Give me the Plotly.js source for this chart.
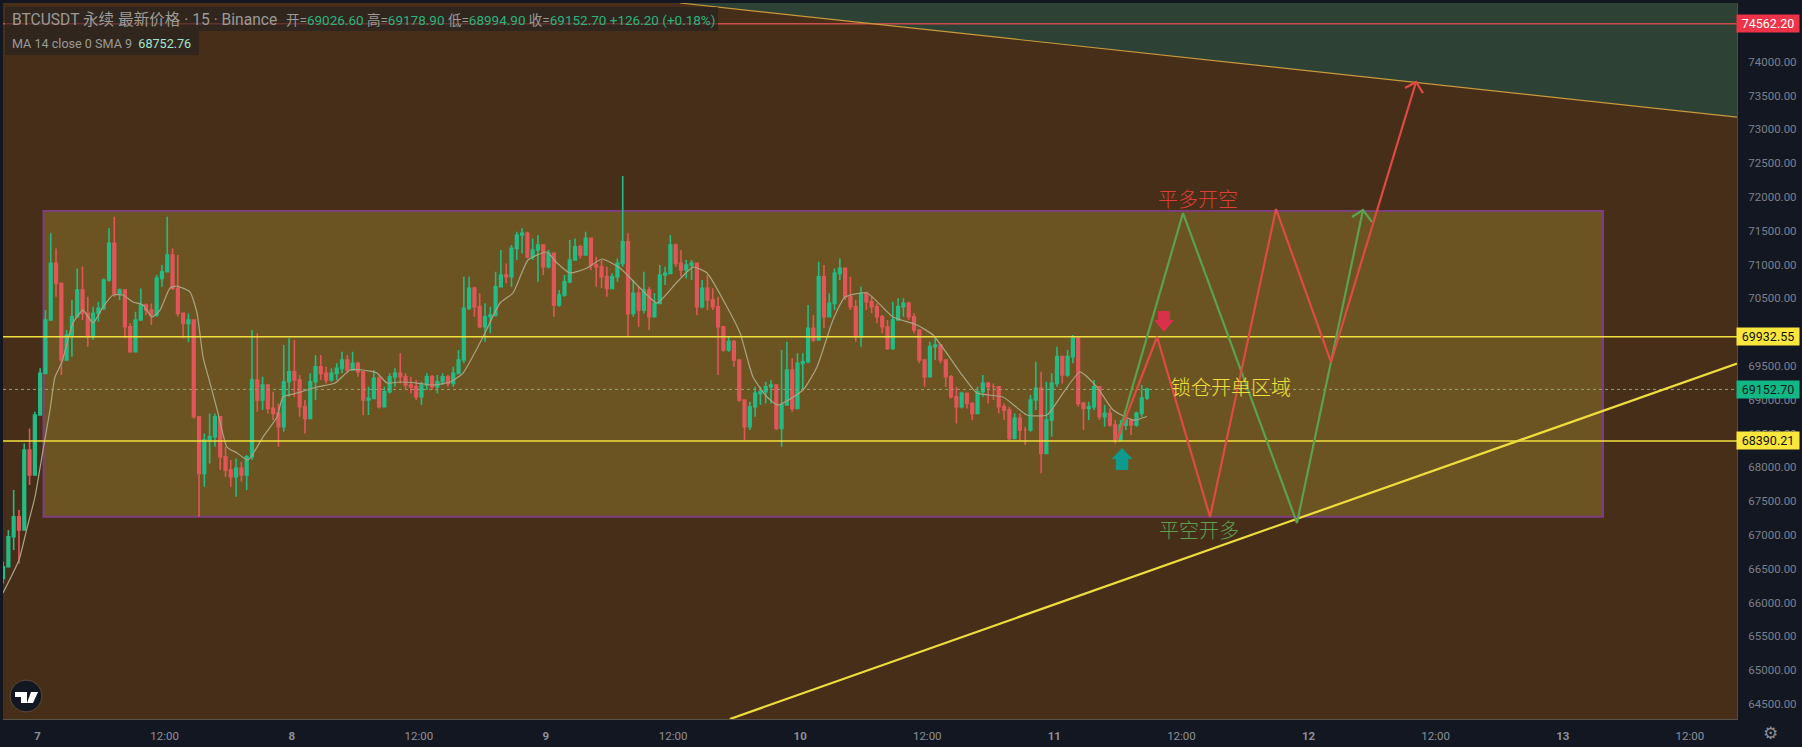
<!DOCTYPE html>
<html><head><meta charset="utf-8">
<script src="https://cdn.plot.ly/plotly-3.0.1.min.js"></script>
<style>html,body{margin:0;padding:0;background:#131722;overflow:hidden}#c{width:1802px;height:747px}</style>
</head><body><div id="c"></div>
<script>
const firstHour=-3.25, stepHours=0.5, firstOpen=66357;
const closes=[66530,66974,67270,67072,68256,67886,68774,69390,
70179,71017,70721,69587,69957,70228,70623,70277,69932,70277,70351,70771,71313,70573,70623,70080,69710,70179,70401,70327,70253,70795,70894,71140,70647,70277,70130,70179,68749,67911,68404,68453,68749,68157,67960,67861,67984,67886,68157,69291,68995,69217,68872,68798,68601,69267,69415,69291,68897,68724,69267,69489,69390,69291,69390,69464,69587,69439,69538,69415,68995,69020,69316,68897,69119,69341,69390,69341,69217,69193,69045,69217,69341,69193,69267,69341,69242,
69390,69587,70352,70648,70376,70080,70228,70253,70672,70845,70820,71239,71437,71461,71116,71215,71289,70968,71165,70401,70549,70746,71067,71264,71141,71387,70993,70968,70820,70648,70820,71017,71338,70278,70574,70327,70623,70228,70426,70845,70870,71289,71017,70919,70993,71017,70376,70648,70475,70376,70080,69735,69859,69587,68996,68601,68897,69094,69119,69193,69218,68577,68922,69440,68872,69538,69563,70056,69883,70820,70228,70426,70870,70943,70524,70376,69933,70574,70450,70376,70228,70080,69760,70179,
70376,70426,70228,70031,69587,69341,69785,69809,69587,69341,69045,68897,69094,68946,68798,69119,69242,69193,69193,68897,68848,68428,68724,68552,68552,68996,69168,68207,68700,69242,69637,69365,69637,69908,68946,68872,68897,69193,68749,68798,68626,68404,68626,68700,68626,68798,69026,69152.7];
const highs=[66604,67072,67664,67368,68354,68576,68823,69464,
70327,71461,71239,70697,70031,70475,70943,70968,70524,70376,70450,70795,71535,71707,70647,70573,70130,70302,70647,70425,70425,70845,70992,71707,71239,71140,70253,70277,70056,68749,68502,68798,68798,68724,68305,68108,68132,68083,68182,70031,69982,69341,69217,69119,68946,69809,69908,69883,69365,68995,69390,69661,69661,69489,69464,69538,69710,69661,69710,69562,69415,69193,69439,69365,69193,69390,69464,69686,69390,69341,69291,69267,69390,69365,69365,69390,69365,
69489,69735,70820,70820,70672,70574,70426,70376,70894,71215,71017,71289,71486,71535,71486,71387,71437,71215,71215,70919,70623,70845,71363,71387,71289,71486,71387,71116,71067,70968,70870,71091,72309,71461,70771,70672,70894,70672,70574,70993,70968,71437,71313,71215,71067,71067,70968,70771,70845,70648,70524,70080,69933,69883,69538,68996,68971,69193,69193,69267,69292,69144,69735,69859,69612,69686,69686,70401,70253,71042,70993,70574,70943,71091,70943,70820,70475,70672,70598,70524,70426,70253,70179,70450,
70500,70500,70450,70278,70031,69587,69858,69908,69809,69538,69365,69193,69119,69094,68946,69193,69365,69267,69242,69143,68946,68897,68798,68798,68601,69070,69563,69415,69267,69390,69785,69637,69735,69957,69883,68971,68971,69291,69143,68922,68872,68700,68700,68773,68724,68823,69218,69178.9];
const lows=[66283,66678,66776,66579,67072,67738,68034,69119,
69587,70179,70524,69365,69587,69636,70253,70179,69784,69883,70154,70327,70746,70524,70475,69908,69695,69784,70228,70253,70105,70228,70672,70894,70623,70228,69908,69858,68724,67270,67713,68058,68305,67960,67861,67713,67565,67787,67664,68108,68823,68847,68798,68700,68305,68527,69045,69045,68749,68502,68995,68995,69291,69242,69267,69291,69390,69390,69439,69341,68773,68773,69143,68872,68897,69094,69193,69242,69143,69094,68995,68921,69143,69143,69094,69217,69193,
69193,69390,69538,70327,70228,70056,69859,69982,70228,70672,70722,70672,71067,71165,71091,71067,70746,70845,70943,70228,70376,70524,70722,71091,71091,71141,70919,70672,70648,70524,70648,70746,70968,69933,70228,70080,70278,70031,70228,70426,70697,70870,70968,70820,70795,70771,70253,70352,70327,70327,69365,69711,69711,69489,68971,68404,68552,68749,68922,68946,68946,68552,68305,68996,68823,69119,69144,69538,69859,70007,70056,70228,70327,70771,70475,70327,69859,69785,70327,70278,70130,69982,69735,69735,
70228,70228,70179,69982,69538,69193,69341,69587,69538,69193,69020,68650,68872,68872,68700,68798,69045,68946,68996,68798,68700,68404,68502,68404,68330,68527,68848,67911,68256,68453,69193,69242,69341,69538,68897,68552,68700,68848,68700,68601,68601,68355,68379,68552,68478,68601,68749,68994.9];

const maHours=[-3.26,-1.75,-0.99,-0.24,0.52,1.18,1.65,2.31,3.35,4.30,5.24,6.18,7.13,8.07,9.02,9.96,10.81,11.57,12.51,13.17,14.40,15.06,15.63,16.29,17.04,17.89,18.84,19.87,21.29,22.61,23.18,24.50,26.39,28.09,29.50,30.73,32.05,33.0,34.22,35.83,37.34,38.95,40.17,42.06,43.67,44.89,46.31,48.10,49.05,50.27,51.88,53.29,54.99,56.88,58.49,60.38,61.89,63.21,65.10,66.33,67.55,68.88,69.91,72.27,73.59,75.10,76.24,78.31,80.77,83.03,84.55,87.09,88.70,91.15,93.42,95.30,96.82,98.43,100.03,101.55,103.43,104.75];
const maValues=[66141,66629,67102,67561,68256,68848,69336,69558,70135,70327,70135,70372,70549,70549,70446,70401,70224,70327,70653,70682,70593,70283,69632,69247,68803,68300,68212,68108,68448,68744,69040,69099,69188,69247,69440,69440,69395,69247,69262,69247,69218,69262,69395,69928,70431,70579,71067,71185,71022,70875,70948,71082,70948,70653,70431,70741,70963,70875,70372,69987,69336,69040,68922,69144,69484,70179,70519,70579,70224,70105,69957,69410,69099,69040,68774,68774,69099,69410,69188,68848,68700,68752.76];

const resistanceHours=[60.66,160.45], resistancePrices=[74869,73182];
const supportHours=[65.37,160.45], supportPrices=[64277,69535];
const greenPathHours=[101.92,108.15,118.91,125.14], greenPathPrices=[68404,71762,67176,71806];
const greenHeadHours=[124.10,125.14,125.99], greenHeadPrices=[71703,71806,71629];
const redPathHours=[101.92,105.70,110.70,116.93,122.12,130.15], redPathPrices=[68404,69928,67265,71821,69558,73700];
const redHeadHours=[129.11,130.15,130.81], redHeadPrices=[73611,73700,73537];
const downArrowHours=[105.80,106.90,106.90,107.30,106.35,105.40,105.80], downArrowPrices=[70312,70312,70179,70179,70002,70179,70179];
const upArrowHours=[101.80,102.98,102.98,103.38,102.39,101.40,101.80], upArrowPrices=[67960,67960,68123,68123,68286,68123,68123];
const rangeBoxHours=[0.57,147.80], rangeBoxPrices=[67269,71792];
const upperLevel=69932.55, lowerLevel=68390.21, redLevel=74562.20, lastPrice=69152.70;
const xRange=[-3.257,160.45], yRange=[64277,74869];
const xTickHours=[0,12,24,36,48,60,72,84,96,108,120,132,144,156];
const xTickLabels=['<b>7</b>','12:00','<b>8</b>','12:00','<b>9</b>','12:00','<b>10</b>','12:00','<b>11</b>','12:00','<b>12</b>','12:00','<b>13</b>','12:00'];
const yTicks=[64500,65000,65500,66000,66500,67000,67500,68000,68500,69000,69500,70000,70500,71000,71500,72000,72500,73000,73500,74000];

const candleHours=closes.map((_,i)=>firstHour+i*stepHours);
const opens=[firstOpen].concat(closes.slice(0,-1));
const L=3,R=65,T=3,B=28,W=1802,H=747,PW=W-L-R,PH=H-T-B;
const fx=p=>(p-L)/PW, fy=p=>1-(p-T)/PH;
const FONT='Roboto, "Noto Sans CJK SC", sans-serif';
const CJK='"Noto Sans CJK SC", sans-serif';

const line=(x,y,color,width,extra)=>Object.assign({type:'scatter',mode:'lines',x,y,line:{color,width},hoverinfo:'skip',showlegend:false},extra||{});
const traces=[
 {type:'scatter',mode:'lines',x:[resistanceHours[0],resistanceHours[1],resistanceHours[1],resistanceHours[0]],y:[resistancePrices[0],resistancePrices[1],yRange[1],yRange[1]],fill:'toself',fillcolor:'#2e4135',line:{width:0},hoverinfo:'skip',showlegend:false},
 {type:'candlestick',x:candleHours,open:opens,high:highs,low:lows,close:closes,whiskerwidth:0,hoverinfo:'skip',showlegend:false,
  increasing:{line:{color:'#22bd86',width:1.6},fillcolor:'#22bd86'},decreasing:{line:{color:'#e2565a',width:1.6},fillcolor:'#e2565a'}},
 line(maHours,maValues,'#a8a484',1.2,{line:{color:'#a8a484',width:1.2,shape:'spline',smoothing:0.5}}),
 line(xRange,[lastPrice,lastPrice],'#8fa37c',1,{line:{color:'#8fa37c',width:1,dash:'dot'}}),
 line(xRange,[redLevel,redLevel],'#cb4f4b',1.4),
 line(xRange,[upperLevel,upperLevel],'#f2e03c',1.5),
 line(xRange,[lowerLevel,lowerLevel],'#f2e03c',1.5),
 line(resistanceHours,resistancePrices,'#c99a3c',1.2),
 line(supportHours,supportPrices,'#efdc3e',2.2),
 line(greenPathHours,greenPathPrices,'#5ca24e',2.2),
 line(greenHeadHours,greenHeadPrices,'#5ca24e',2.2),
 line(redPathHours,redPathPrices,'#df4a44',2.2),
 line(redHeadHours,redHeadPrices,'#df4a44',2.2),
 {type:'scatter',mode:'lines',x:downArrowHours,y:downArrowPrices,fill:'toself',fillcolor:'#d9304b',line:{width:0},hoverinfo:'skip',showlegend:false},
 {type:'scatter',mode:'lines',x:upArrowHours,y:upArrowPrices,fill:'toself',fillcolor:'#0e9a8c',line:{width:0},hoverinfo:'skip',showlegend:false}
];

const g='#2bb37e',t='#9b9a98';
const v=s=>`<span style="color:${g}">${s}</span>`;
const legendName='BTCUSDT 永续 最新价格 · 15 · Binance';
const legendValues=`开=${v('69026.60')} 高=${v('69178.90')} 低=${v('68994.90')} 收=${v('69152.70')} ${v('+126.20 (+0.18%)')}`;
const maText=`MA 14 close 0 SMA 9  <span style="color:#9fe8cf">68752.76</span>`;
const badge=(y,text,bg,fg)=>({xref:'paper',yref:'y',x:fx(1736),y,xanchor:'left',yanchor:'middle',text,showarrow:false,bgcolor:bg,width:62,height:17,borderpad:0,align:'center',font:{family:FONT,size:12.5,color:fg}});
const pxText=(x,y,text,size,color,anchor)=>({xref:'paper',yref:'paper',x:fx(x),y:fy(y),xanchor:anchor||'left',yanchor:'middle',text,showarrow:false,font:{family:FONT,size,color}});
const dataText=(x,y,text,color)=>({xref:'x',yref:'y',x,y,text,showarrow:false,xanchor:'center',yanchor:'middle',font:{family:CJK,size:20,color,weight:300}});

const annotations=[
 pxText(9.5,20,legendName,15.6,t),
 pxText(284,20,legendValues,13.5,t),
 pxText(9.5,43,maText,12.6,t),
 badge(redLevel,'74562.20','#ee3348','#ffffff'),
 badge(upperLevel,'69932.55','#fbe63c','#111111'),
 badge(lastPrice,'69152.70','#11b886','#0c1a16'),
 badge(lowerLevel,'68390.21','#fbe63c','#111111'),
 dataText(109.6,71984,'平多开空','#dd4038'),
 dataText(109.7,67080,'平空开多','#5f9f50'),
 dataText(112.7,69203,'锁仓开单区域','#f1e03c'),
 pxText(1770,733,'⚙',17,'#8a8d95','center')
];
annotations[annotations.length-1].font.family='"DejaVu Sans"';

const logoPath=[[15,692],[27,692],[27,703],[21,703],[21,697],[15,697]].map((p,i)=>(i?'L':'M')+fx(p[0])+','+fy(p[1])).join('')+'Z';
const logoSlash=[[31,692],[38,692],[33,703],[27,703]].map((p,i)=>(i?'L':'M')+fx(p[0])+','+fy(p[1])).join('')+'Z';
const pRect=(x0,y0,x1,y1,fill)=>({type:'rect',xref:'paper',yref:'paper',x0:fx(x0),x1:fx(x1),y0:fy(y0),y1:fy(y1),fillcolor:fill,line:{width:0},layer:'above'});
const shapes=[
 {type:'rect',xref:'x',yref:'y',x0:rangeBoxHours[0],x1:rangeBoxHours[1],y0:rangeBoxPrices[0],y1:rangeBoxPrices[1],fillcolor:'#6b5421',line:{color:'#7d3f80',width:2},layer:'below'},
 pRect(5,7,718,31,'rgba(36,34,33,0.62)'),
 pRect(5,31,199,55,'rgba(36,34,33,0.62)'),
 {type:'circle',xref:'paper',yref:'paper',x0:fx(10),x1:fx(42),y0:fy(680),y1:fy(712),fillcolor:'#131722',line:{color:'#5c4a38',width:1},layer:'above'},
 {type:'path',xref:'paper',yref:'paper',path:logoPath,fillcolor:'#ffffff',line:{width:0},layer:'above'},
 {type:'path',xref:'paper',yref:'paper',path:logoSlash,fillcolor:'#ffffff',line:{width:0},layer:'above'}
];

const layout={
 width:W,height:H,margin:{l:L,r:R,t:T,b:B,pad:0},paper_bgcolor:'#131722',plot_bgcolor:'#462e19',showlegend:false,hovermode:false,
 xaxis:{type:'linear',range:xRange,rangeslider:{visible:false},tickmode:'array',tickvals:xTickHours,ticktext:xTickLabels,showgrid:false,zeroline:false,ticks:'',showline:true,linecolor:'#55534a',linewidth:1,tickfont:{family:FONT,size:11.5,color:'#8d9098'},automargin:false,ticklabelstandoff:6},
 yaxis:{type:'linear',side:'right',range:yRange,tickmode:'array',tickvals:yTicks,ticktext:yTicks.map(p=>p.toFixed(2)),showgrid:false,zeroline:false,ticks:'',showline:true,linecolor:'#4a4d55',linewidth:1,tickfont:{family:FONT,size:11.5,color:'#7c808a'},automargin:false,ticklabelstandoff:8},
 shapes,annotations
};
Plotly.newPlot('c',traces,layout,{displayModeBar:false,staticPlot:true});
</script></body></html>
